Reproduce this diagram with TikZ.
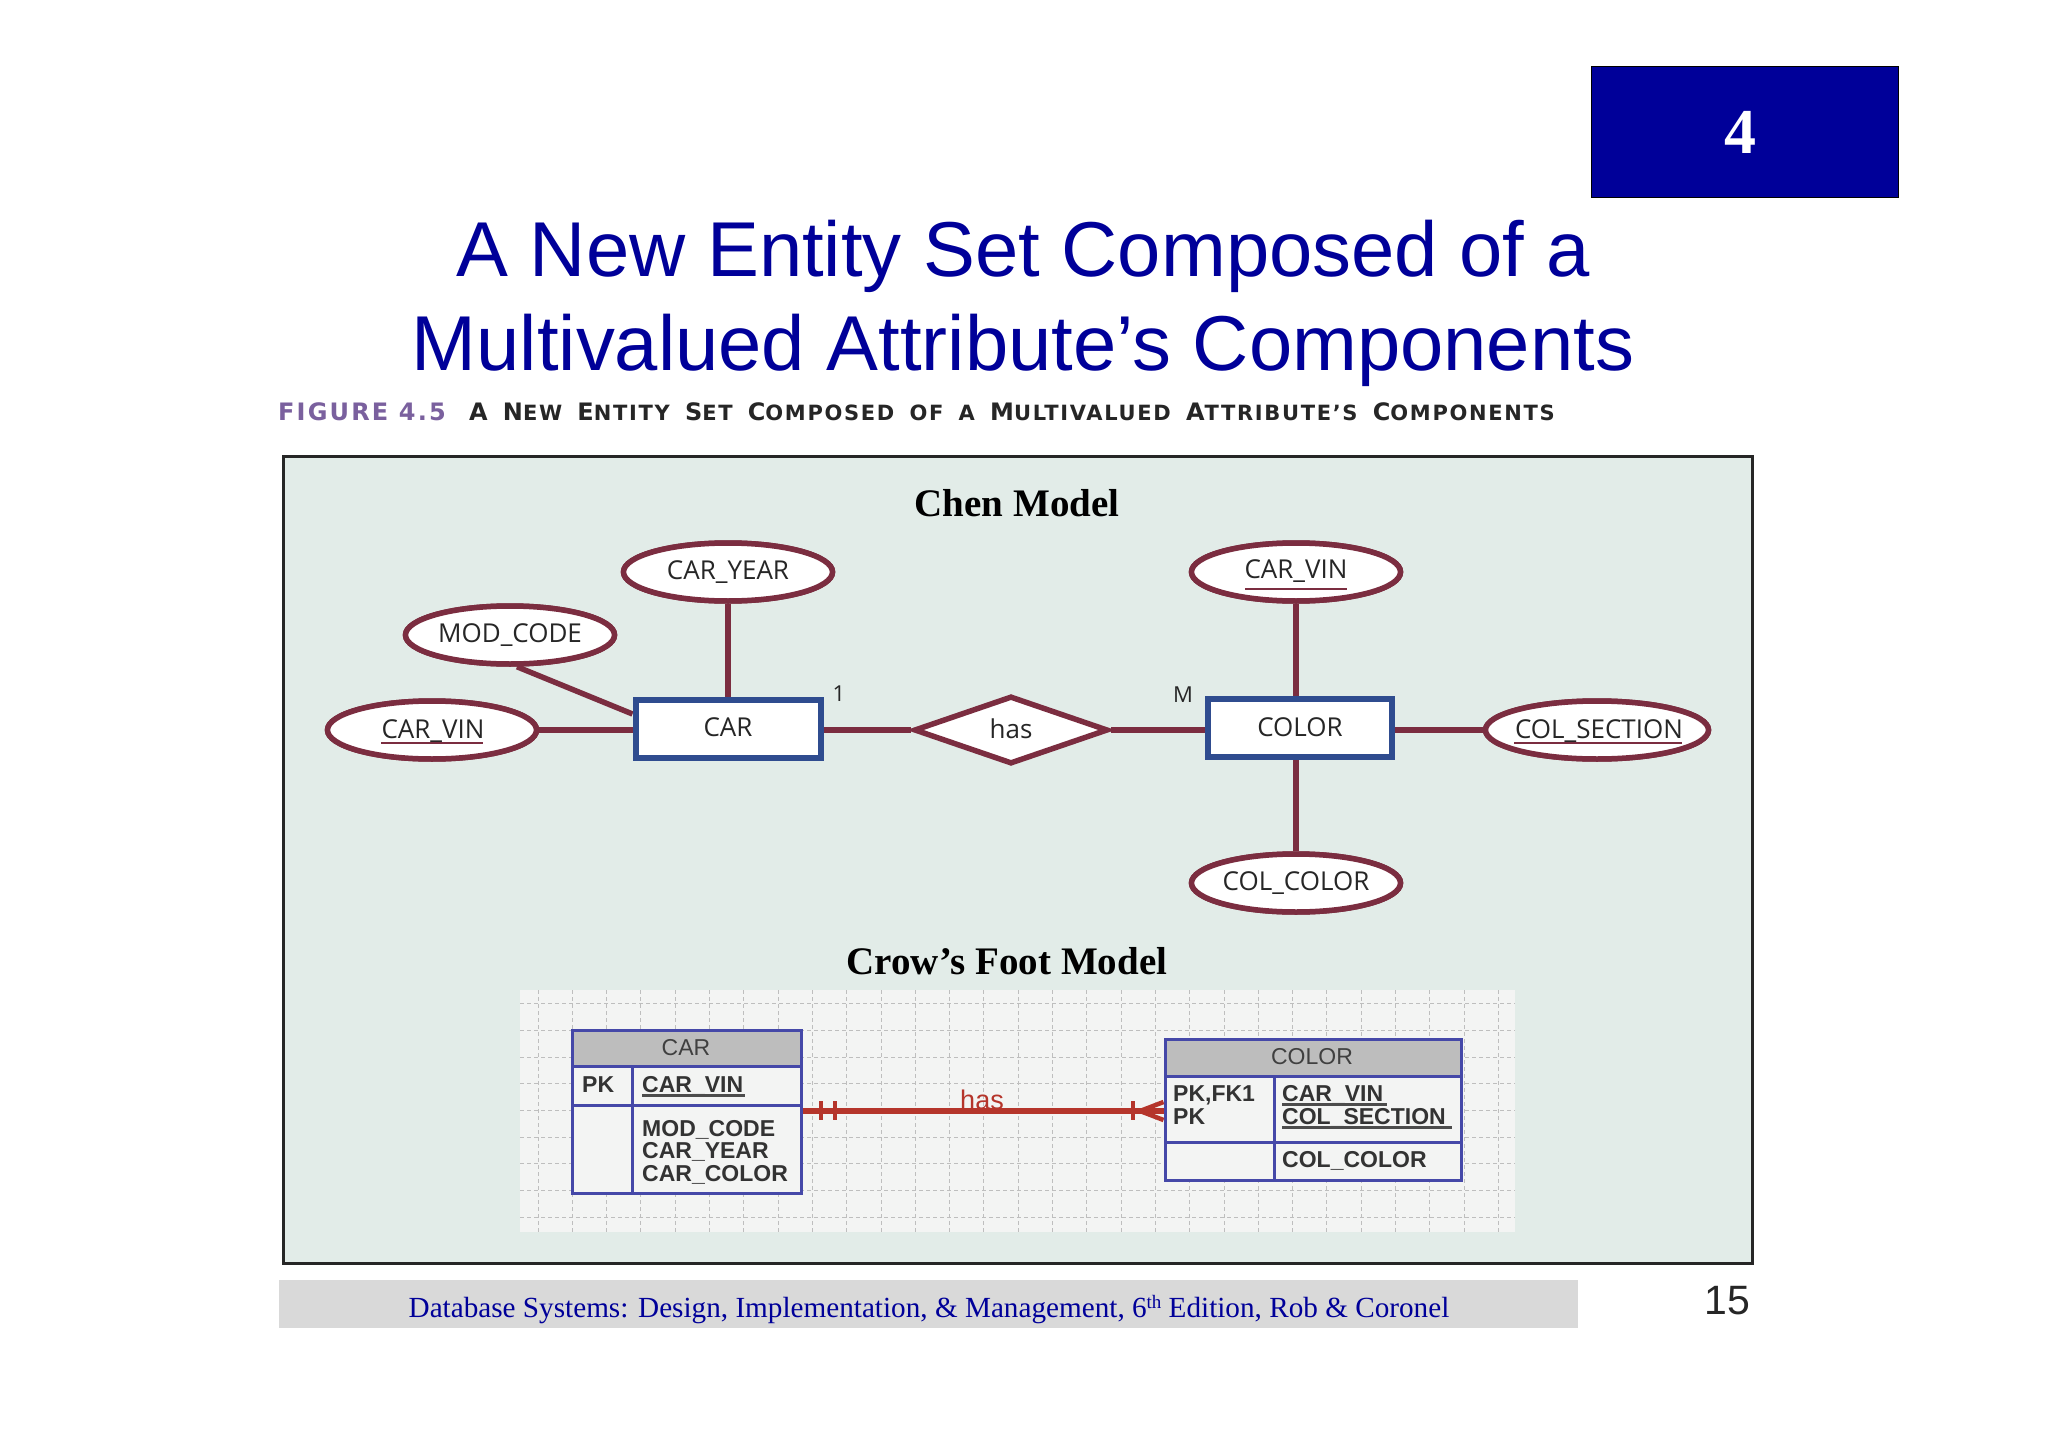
\documentclass[tikz,border=0pt]{standalone}
\usepackage{fontspec}
\setmainfont{Liberation Sans}
\newfontfamily\serifx{Liberation Serif}
\newfontfamily\chenf{Open Sans}
\newfontfamily\capf[LetterSpace=8]{DejaVu Sans}
\newfontfamily\figf[LetterSpace=9]{DejaVu Sans}
\newcommand{\fs}[1]{\fontsize{#1}{#1}\selectfont}
\newcommand{\SC}[2]{{\fs{24}#1}{\fs{21}#2}}
\newcommand{\wsp}{\hspace{15.2pt}}
\definecolor{navyx}{HTML}{000099}
\definecolor{maroonx}{HTML}{7B2D40}
\definecolor{bluex}{HTML}{2F4C8F}
\definecolor{tblue}{HTML}{4548A8}
\definecolor{redx}{HTML}{B5352B}
\definecolor{panelx}{HTML}{E2ECE8}
\definecolor{gridbg}{HTML}{F3F4F3}
\definecolor{gridln}{HTML}{BEBEBE}
\definecolor{hdrx}{HTML}{BDBDBD}
\definecolor{footx}{HTML}{D9D9D9}
\definecolor{purplex}{HTML}{7A609E}
\usetikzlibrary{shapes.geometric}
\tikzset{
 attr/.style={ellipse,draw=maroonx,line width=5.5pt,fill=white,inner sep=0pt,minimum height=58pt,minimum width=209pt},
 ent/.style={rectangle,draw=bluex,line width=6pt,fill=white,inner sep=0pt,minimum height=58pt},
 rel/.style={diamond,draw=maroonx,line width=5.5pt,fill=white,inner sep=0pt,minimum width=194pt,minimum height=68pt},
 lnk/.style={draw=maroonx,line width=5.5pt},
 lab/.style={font=\chenf\fs{26},text=black!85,inner sep=0pt,anchor=base,yshift=-1.3pt},
 ul/.style={draw=maroonx,line width=2.5pt},
 tcell/.style={rectangle,draw=tblue,line width=3pt,inner sep=0pt},
 ttxt/.style={font=\bfseries\fs{23},text=black!80,inner sep=0pt,anchor=base west},
 thead/.style={font=\fs{23},text=black!75,inner sep=0pt},
 gridl/.style={draw=gridln,line width=1pt,dash pattern=on 4pt off 3pt},
 tul/.style={draw=black!70,line width=2.5pt},
 rln/.style={draw=redx,line width=5.5pt},
}
\begin{document}
\begin{tikzpicture}[x=1pt,y=-1pt]
\useasboundingbox (0,0) rectangle (2048,1447);
\fill[white] (0,0) rectangle (2048,1447);
% tab
\node[rectangle,draw=black,line width=1pt,fill=navyx,minimum width=307pt,minimum height=131pt,inner sep=0pt,text=white,font=\serifx\bfseries\fs{64}] (tab) at (1745,132) {\makebox[0pt]{\hspace{-10pt}4}};
% title
\node[font=\fs{77.8},text=navyx,inner sep=0pt] (title1) at (1023,256) {A New Entity Set Composed of a};
\node[font=\fs{77.8},text=navyx,inner sep=0pt] (title2) at (1023,350) {Multivalued Attribute’s Components};
% caption
\node[font=\figf\bfseries,inner sep=0pt,anchor=base west,text=purplex] (figno) at (278,420) {\fs{24}FIGURE 4.5};
\node[font=\capf\bfseries,inner sep=0pt,anchor=base west,text=black!85] (cap) at (469,420) {\SC{A}{}\wsp\SC{N}{EW}\wsp\SC{E}{NTITY}\wsp\SC{S}{ET}\wsp\SC{C}{OMPOSED}\wsp{\fs{21}OF}\wsp{\fs{21}A}\wsp\SC{M}{ULTIVALUED}\wsp\SC{A}{TTRIBUTE’S}\wsp\SC{C}{OMPONENTS}};
% frame
\node[rectangle,draw=black!85,line width=3pt,fill=panelx,minimum width=1469pt,minimum height=807pt,inner sep=0pt] (frame) at (1018,859.5) {};
\node[font=\serifx\bfseries\fs{39},inner sep=0pt] (chen) at (1017,503) {Chen Model};
\node[font=\serifx\bfseries\fs{39},inner sep=0pt] (crow) at (1007,961) {Crow’s Foot Model};
% Chen attributes and entities
\node[attr] (year) at (728,572) {};
\node[attr] (mod) at (510,635) {};
\node[attr] (vinA) at (432,730) {};
\node[ent,minimum width=185pt] (car) at (728,729) {};
\node[rel] (has) at (1011,730) {};
\node[ent,minimum width=184pt] (color) at (1300,728) {};
\node[attr] (vinB) at (1296,572) {};
\node[attr,minimum width=223pt] (sect) at (1597,730) {};
\node[attr] (ccol) at (1296,883) {};
\coordinate (modfoot) at ([xshift=7pt]mod.south);
\draw[lnk] (modfoot) -- ([yshift=15pt]car.west);
\draw[lnk] (year) -- (car.north);
\draw[lnk] (vinA) -- (vinA -| car.west);
\draw[lnk] (car.east |- has.west) -- (has.west);
\draw[lnk] (has.east) -- (color.west |- has.east);
\draw[lnk] (vinB) -- (vinB |- color.north);
\draw[lnk] (ccol) -- (ccol |- color.south);
\draw[lnk] (color.east |- sect.west) -- (sect.west);
% redraw ellipses above their lines
\node[attr] at (year) {};\node[attr] at (mod) {};\node[attr] at (vinA) {};
\node[attr] at (vinB) {};\node[attr,minimum width=223pt] at (sect) {};\node[attr] at (ccol) {};
\node[ent,minimum width=185pt] at (car) {};
\node[lab] (t1) at (728,578) {CAR\_YEAR};
\node[lab] (t2) at (510,641) {MOD\_CODE};
\node[lab] (t3) at (433,737) {CAR\_VIN};
\node[lab] (t4) at (728,735) {CAR};
\node[lab] (t5) at (1011,737) {has};
\node[lab] (t6) at (1300,735) {COLOR};
\node[lab] (t7) at (1296,577) {CAR\_VIN};
\node[lab] (t8) at (1599,737) {COL\_SECTION};
\node[lab] (t9) at (1296,889) {COL\_COLOR};
\node[lab,font=\chenf\fs{22}] (one) at (839,700) {1};
\node[lab,font=\chenf\fs{22}] (many) at (1183,701) {M};
\draw[ul] ([xshift=-51pt,yshift=-13pt]vinA.center) -- ([xshift=51pt,yshift=-13pt]vinA.center);
\draw[ul] ([xshift=-51pt,yshift=-17pt]vinB.center) -- ([xshift=51pt,yshift=-17pt]vinB.center);
\draw[ul] ([xshift=-83pt,yshift=-13pt]sect.center) -- ([xshift=85pt,yshift=-13pt]sect.center);
% grid
\node[rectangle,fill=gridbg,minimum width=995pt,minimum height=242pt,inner sep=0pt] (gridpanel) at (1017.5,1111) {};
\foreach \yy in {1003,1030,1057,1083,1110,1137,1163,1190,1217} \draw[gridl] (520,\yy) -- (1515,\yy);
\foreach \ii in {0,...,28} \draw[gridl] ({538+34.3*\ii},990) -- ({538+34.3*\ii},1232);
% crow's foot CAR
\node[tcell,fill=hdrx,minimum width=229pt,minimum height=36pt] (carh) at (686.5,1048) {};
\node[tcell,fill=gridbg,minimum width=60pt,minimum height=39pt] (carpk) at (602,1085.5) {};
\node[tcell,fill=gridbg,minimum width=169pt,minimum height=39pt] (carkey) at (716.5,1085.5) {};
\node[tcell,fill=gridbg,minimum width=60pt,minimum height=88pt] (carno) at (602,1149) {};
\node[tcell,fill=gridbg,minimum width=169pt,minimum height=88pt] (carattr) at (716.5,1149) {};
\node[thead] (carht) at (686,1048) {CAR};
\node[ttxt] (pkt) at (582,1092) {PK};
\node[ttxt] (vint) at (642,1092) {CAR\_VIN};
\draw[tul] (642,1095.5) -- (745,1095.5);
\node[ttxt] (m1) at (642,1136) {MOD\_CODE};
\node[ttxt] (m2) at (642,1158) {CAR\_YEAR};
\node[ttxt] (m3) at (642,1181) {CAR\_COLOR};
% crow's foot COLOR
\node[tcell,fill=hdrx,minimum width=296pt,minimum height=37pt] (colh) at (1313,1057.5) {};
\node[tcell,fill=gridbg,minimum width=109pt,minimum height=66pt] (colpk) at (1219.5,1109) {};
\node[tcell,fill=gridbg,minimum width=187pt,minimum height=66pt] (colkey) at (1367.5,1109) {};
\node[tcell,fill=gridbg,minimum width=109pt,minimum height=38pt] (colno) at (1219.5,1161) {};
\node[tcell,fill=gridbg,minimum width=187pt,minimum height=38pt] (colattr) at (1367.5,1161) {};
\node[thead] (colht) at (1312,1057) {COLOR};
\node[ttxt] (p1) at (1173,1101) {PK,FK1};
\node[ttxt] (p2) at (1173,1124) {PK};
\node[ttxt] (k1) at (1282,1101) {CAR\_VIN};
\node[ttxt] (k2) at (1282,1124) {COL\_SECTION};
\draw[tul] (1282,1104.5) -- (1387,1104.5);
\draw[tul] (1282,1127.5) -- (1452,1127.5);
\node[ttxt] (k3) at (1282,1167) {COL\_COLOR};
% relationship
\coordinate (cfapex) at (1140,1111);
\draw[rln] (carkey.east |- cfapex) -- (colpk.west |- cfapex);
\draw[redx,line width=4.5pt] (821,1101) -- (821,1120) (835,1101) -- (835,1120) (1133,1101) -- (1133,1120);
\draw[redx,line width=4.5pt] (cfapex) -- ([yshift=9pt]colpk.west |- cfapex) (cfapex) -- ([yshift=-9pt]colpk.west |- cfapex);
\node[font=\fs{27},text=redx,inner sep=0pt] (hast) at (982,1100) {has};
% footer
\node[rectangle,fill=footx,minimum width=1299pt,minimum height=48pt,inner sep=0pt] (foot) at (928.5,1304) {};
\node[font=\serifx\fs{29.2},text=navyx,inner sep=0pt] (footer) at (929,1310) {Database Systems: Design, Implementation, \& Management, 6\raisebox{9pt}{\fs{19}th} Edition, Rob \& Coronel};
\node[font=\fs{41},text=black!85,inner sep=0pt] (page) at (1727,1301) {15};
\end{tikzpicture}
\end{document}
